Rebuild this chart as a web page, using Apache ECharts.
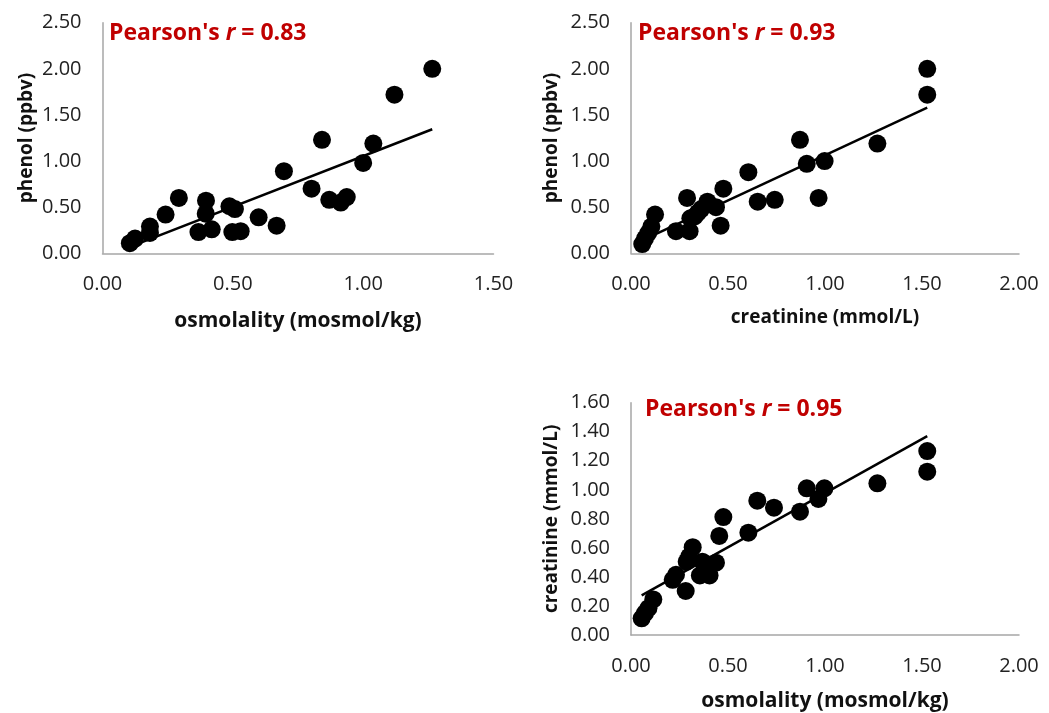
<!DOCTYPE html>
<html>
<head>
<meta charset="utf-8">
<script src="https://cdn.jsdelivr.net/npm/echarts@6/dist/echarts.min.js"></script>
<style>
  html, body { margin: 0; padding: 0; background: #fff; }
  #container { width: 1049px; height: 713px; }
</style>
</head>
<body>
<div id="container"></div>
<script>
// 图1：osmolality vs phenol
var osmo1   = [0.105, 0.125, 0.182, 0.182, 0.242, 0.293, 0.368, 0.397, 0.396, 0.419, 0.487, 0.508, 0.498,
               0.530, 0.599, 0.668, 0.696, 0.802, 0.842, 0.870, 0.914, 0.937, 1.000, 1.039, 1.120, 1.265];
var phenol1 = [0.11, 0.16, 0.29, 0.22, 0.42, 0.60, 0.23, 0.57, 0.43, 0.26, 0.51, 0.48, 0.23,
               0.24, 0.39, 0.30, 0.89, 0.70, 1.23, 0.58, 0.55, 0.61, 0.98, 1.19, 1.72, 2.00];
var trend1  = [[0.105, 0.07], [1.265, 1.345]];

// 图2：creatinine vs phenol
var creat2  = [0.058, 0.072, 0.089, 0.105, 0.124, 0.232, 0.289, 0.302, 0.306, 0.328, 0.345, 0.362, 0.394,
               0.438, 0.462, 0.476, 0.605, 0.653, 0.741, 0.871, 0.906, 0.967, 0.998, 1.270, 1.527, 1.527];
var phenol2 = [0.10, 0.16, 0.22, 0.29, 0.42, 0.24, 0.60, 0.24, 0.38, 0.40, 0.44, 0.48, 0.56,
               0.50, 0.30, 0.70, 0.88, 0.56, 0.58, 1.23, 0.97, 0.60, 1.00, 1.19, 2.00, 1.72];
var trend2  = [[0.058, 0.14], [1.527, 1.58]];

// 图3：osmolality vs creatinine
var osmo3   = [0.055, 0.072, 0.090, 0.115, 0.215, 0.232, 0.282, 0.287, 0.300, 0.318, 0.355, 0.368, 0.405,
               0.438, 0.455, 0.476, 0.605, 0.651, 0.737, 0.871, 0.906, 0.966, 0.997, 1.270, 1.527, 1.527];
var creat3  = [0.115, 0.150, 0.185, 0.245, 0.380, 0.415, 0.303, 0.505, 0.540, 0.605, 0.410, 0.505, 0.410,
               0.498, 0.682, 0.812, 0.705, 0.925, 0.877, 0.849, 1.010, 0.937, 1.010, 1.045, 1.267, 1.125];
var trend3  = [[0.055, 0.273], [1.527, 1.37]];

// 坐标轴刻度
var xTicks1 = [0, 0.5, 1.0, 1.5];
var yTicks1 = [0, 0.5, 1.0, 1.5, 2.0, 2.5];
var xTicks2 = [0, 0.5, 1.0, 1.5, 2.0];
var yTicks2 = [0, 0.5, 1.0, 1.5, 2.0, 2.5];
var xTicks3 = [0, 0.5, 1.0, 1.5, 2.0];
var yTicks3 = [0, 0.2, 0.4, 0.6, 0.8, 1.0, 1.2, 1.4, 1.6];

var titles = ['0.83', '0.93', '0.95'];
var xNames = ['osmolality (mosmol/kg)', 'creatinine (mmol/L)', 'osmolality (mosmol/kg)'];
var yNames = ['phenol (ppbv)', 'phenol (ppbv)', 'creatinine (mmol/L)'];

var FONT = 'Open Sans';

function pairs(xs, ys) {
	var out = [];
	for (var i = 0; i < xs.length; i++) {
		out.push([xs[i], ys[i]]);
	}
	return out;
}

function makeAxis(ticks, idx, name, gap, nameSize) {
	return {
		type: 'value',
		gridIndex: idx,
		min: ticks[0],
		max: ticks[ticks.length - 1],
		interval: ticks[1] - ticks[0],
		name: name,
		nameLocation: 'middle',
		nameGap: gap,
		nameTextStyle: { fontFamily: FONT, fontWeight: 'bold', fontSize: nameSize, color: '#111' },
		axisLine: { show: true, lineStyle: { color: '#a6a6a6', width: 1.5 } },
		axisTick: { show: false },
		splitLine: { show: false },
		axisLabel: {
			fontFamily: FONT, fontSize: 20, color: '#222', margin: 21,
			formatter: function (v) { return v.toFixed(2); }
		}
	};
}

function makeTitle(r, left, top) {
	return {
		left: left, top: top, padding: 0,
		text: '{a|Pearson\'s }{b|r}{a| = ' + r + '}',
		textStyle: {
			rich: {
				a: { fontFamily: FONT, fontWeight: 'bold', fontSize: 23, color: '#c00000' },
				b: { fontFamily: FONT, fontWeight: 'bold', fontStyle: 'italic', fontSize: 23, color: '#c00000' }
			}
		}
	};
}

var dotStyle = { color: '#000', opacity: 1 };
var lineStyle = { color: '#000', width: 2.5 };

function scatterSeries(idx, data) {
	return { type: 'scatter', xAxisIndex: idx, yAxisIndex: idx, symbolSize: 18, itemStyle: dotStyle, data: data, z: 3 };
}
function trendSeries(idx, data) {
	return { type: 'line', xAxisIndex: idx, yAxisIndex: idx, symbol: 'none', lineStyle: lineStyle, data: data, z: 4 };
}

var dom = document.getElementById('container');
var myChart = echarts.init(dom, null, { renderer: 'canvas' });

var option = {
	animation: false,
	backgroundColor: '#fff',
	title: [
		makeTitle(titles[0], 109, 22),
		makeTitle(titles[1], 638, 22),
		makeTitle(titles[2], 645, 398)
	],
	grid: [
		{ left: 102.5, top: 22.7, width: 391, height: 230.6 },
		{ left: 631, top: 22.7, width: 388, height: 230.6 },
		{ left: 631, top: 402.7, width: 388, height: 232.3 }
	],
	xAxis: [
		makeAxis(xTicks1, 0, xNames[0], 57, 21),
		makeAxis(xTicks2, 1, xNames[1], 55, 19),
		makeAxis(xTicks3, 2, xNames[2], 56, 21)
	],
	yAxis: [
		makeAxis(yTicks1, 0, yNames[0], 66, 19),
		makeAxis(yTicks2, 1, yNames[1], 70, 19),
		makeAxis(yTicks3, 2, yNames[2], 70, 19)
	],
	series: [
		scatterSeries(0, pairs(osmo1, phenol1)),
		trendSeries(0, trend1),
		scatterSeries(1, pairs(creat2, phenol2)),
		trendSeries(1, trend2),
		scatterSeries(2, pairs(osmo3, creat3)),
		trendSeries(2, trend3)
	]
};

myChart.setOption(option);
</script>
</body>
</html>
